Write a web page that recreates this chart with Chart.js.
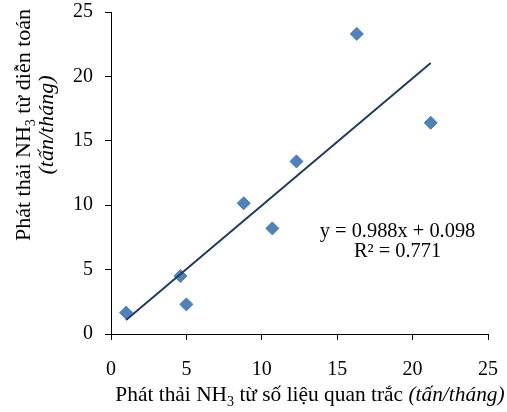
<!DOCTYPE html>
<html>
<head>
<meta charset="utf-8">
<script src="https://cdn.jsdelivr.net/npm/chart.js@4.4.1/dist/chart.umd.min.js"></script>
<style>
  html, body { margin: 0; padding: 0; background: #fff; }
</style>
</head>
<body>
<canvas id="nh3Chart" width="507" height="412"></canvas>
<script>
// NH3 emission: measured (x) vs. modelled (y), tonnes/month
const measured = [1.0, 4.6, 5.0, 8.8, 10.7, 12.3, 16.3, 21.2];
const modelled = [1.65, 4.5, 2.3, 10.15, 8.2, 13.4, 23.3, 16.4];
const axisTicks = [0, 5, 10, 15, 20, 25];

// linear trendline, as printed on the chart
const slope = 0.988;
const intercept = 0.098;
const rSquared = 0.771;

const serif = '"Liberation Serif", "Times New Roman", serif';

const points = measured.map(function (x, i) { return { x: x, y: modelled[i] }; });
const xMin = Math.min.apply(null, measured);
const xMax = Math.max.apply(null, measured);
const trend = [xMin, xMax].map(function (x) { return { x: x, y: slope * x + intercept }; });

//draws a row of text pieces (normal / italic / subscript) centred on x
function drawRuns(ctx, runs, cx, baseline, size) {
  const fontOf = function (r) {
    const s = r.sub ? Math.round(size * 0.65) : size;
    return (r.italic ? 'italic ' : '') + s + 'px ' + serif;
  };
  let total = 0;
  runs.forEach(function (r) { ctx.font = fontOf(r); total += ctx.measureText(r.text).width; });
  let x = cx - total / 2;
  runs.forEach(function (r) {
    ctx.font = fontOf(r);
    ctx.fillText(r.text, x, baseline + (r.sub ? size * 0.22 : 0));
    x += ctx.measureText(r.text).width;
  });
}

const labelsPlugin = {
  id: 'labels',
  afterDraw: function (chart) {
    const ctx = chart.ctx;
    const xs = chart.scales.x, ys = chart.scales.y;
    ctx.save();
    ctx.fillStyle = '#000';
    ctx.textAlign = 'left';
    ctx.textBaseline = 'alphabetic';

    // x axis title
    drawRuns(ctx, [
      { text: 'Phát thải NH' }, { text: '3', sub: true },
      { text: ' từ số liệu quan trắc ' }, { text: '(tấn/tháng)', italic: true }
    ], 310, 401, 21.4);

    // y axis title, two lines rotated
    ctx.save();
    ctx.rotate(-Math.PI / 2);
    drawRuns(ctx, [
      { text: 'Phát thải NH' }, { text: '3', sub: true }, { text: ' từ diễn toán' }
    ], -125, 30, 22);
    drawRuns(ctx, [{ text: '(tấn/tháng)', italic: true }], -125, 53, 22);
    ctx.restore();

    // trendline equation
    const ex = xs.getPixelForValue(19);
    drawRuns(ctx, [{ text: 'y = ' + slope + 'x + ' + intercept }], ex, ys.getPixelForValue(7.5), 20.4);
    drawRuns(ctx, [{ text: 'R² = ' + rSquared }], ex, ys.getPixelForValue(5.95), 20.4);
    ctx.restore();
  }
};

function axis(fitFn) {
  return {
    type: 'linear',
    min: 0,
    max: 25,
    afterBuildTicks: function (s) { s.ticks = axisTicks.map(function (v) { return { value: v }; }); },
    afterFit: function (s) {
      // fixed box sizes, no extra room for overhanging end labels
      s.paddingTop = 0; s.paddingBottom = 0; s.paddingLeft = 0; s.paddingRight = 0;
      fitFn(s);
    },
    grid: { drawOnChartArea: false, tickLength: 6, color: '#000', lineWidth: 1 },
    border: { color: '#000', width: 1 },
    ticks: { color: '#000', padding: 18, maxRotation: 0, font: { family: serif, size: 20 } }
  };
}

const xAxis = axis(function (s) { s.height = 78; });
const yAxis = axis(function (s) { s.width = 111; });
yAxis.ticks.padding = 12;

new Chart(document.getElementById('nh3Chart'), {
  type: 'scatter',
  data: {
    datasets: [{
      label: 'trend',
      type: 'line',
      data: trend,
      borderColor: '#1F3A64',
      borderWidth: 2,
      pointRadius: 0,
      fill: false,
      order: 0
    }, {
      label: 'NH3',
      data: points,
      pointStyle: 'rectRot',
      pointRadius: 6.5,
      backgroundColor: '#4F81BD',
      borderColor: '#4A7AB5',
      borderWidth: 1,
      order: 1
    }]
  },
  options: {
    responsive: false,
    animation: false,
    layout: { padding: { top: 12, right: 19, left: 0, bottom: 0 } },
    plugins: { legend: { display: false }, tooltip: { enabled: false } },
    scales: { x: xAxis, y: yAxis }
  },
  plugins: [labelsPlugin]
});
</script>
</body>
</html>
